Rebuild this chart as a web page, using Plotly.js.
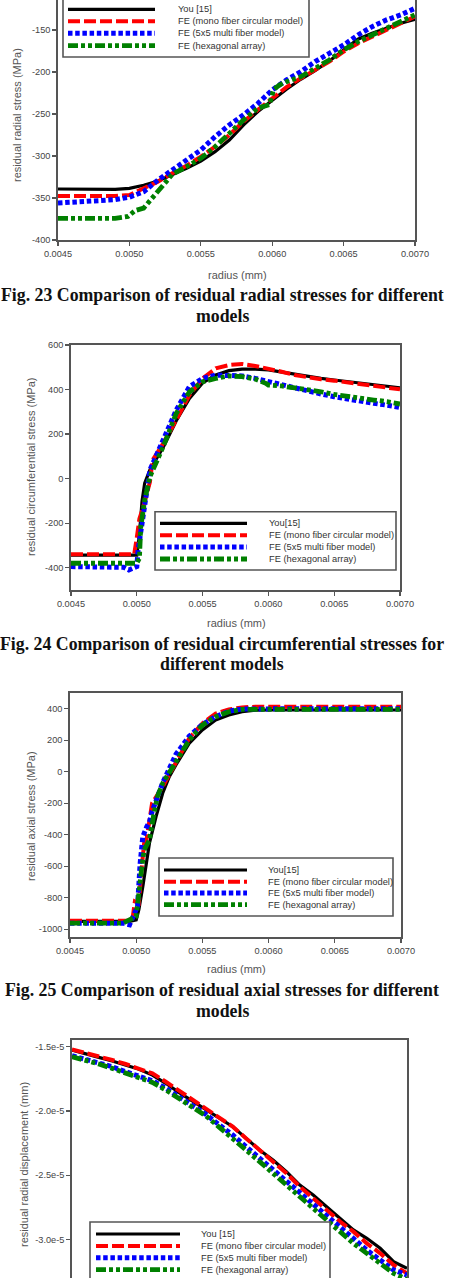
<!DOCTYPE html>
<html><head><meta charset="utf-8">
<script src="https://cdn.plot.ly/plotly-3.0.1.min.js"></script>
<style>html,body{margin:0;padding:0;background:#fff}#chart{width:453px;height:1278px}</style>
</head><body><div id="chart"></div>
<script>
// ---------- Fig. 23 : residual radial stress ----------
const radialR = [0.0045,0.0046,0.0047,0.0048,0.0049,0.0050,0.0051,0.0052,0.0053,0.0054,0.0055,0.0056,0.0057,0.0058,0.0059,0.0060,0.0061,0.0062,0.0063,0.0064,0.0065,0.0066,0.0067,0.0068,0.0069,0.0070];
const radialYou = [-339.3,-339.3,-339.3,-339.3,-339.7,-338.5,-334.9,-329.8,-322.6,-314.7,-306.0,-294.8,-281.0,-263.0,-247.0,-233.3,-220.6,-208.7,-198.4,-186.9,-173.8,-161.0,-154.0,-148.0,-142.0,-137.3];
const radialMono = [-347.6,-347.6,-347.6,-347.6,-347.6,-346.4,-339.0,-330.5,-320.6,-311.5,-300.8,-289.0,-275.0,-259.0,-245.0,-231.3,-218.0,-207.5,-197.6,-187.7,-175.8,-166.0,-158.0,-150.0,-142.0,-134.0];
const radialMulti = [-356.0,-355.0,-355.0,-354.0,-352.0,-349.0,-342.5,-328.6,-316.7,-304.8,-292.9,-277.0,-263.0,-251.0,-237.3,-221.4,-209.5,-199.6,-187.7,-177.8,-167.9,-156.0,-146.0,-138.0,-132.0,-124.2];
const radialHexR = [0.0045,0.0046,0.0047,0.0048,0.0049,0.00499,0.00504,0.0051,0.00515,0.0052,0.00525,0.0053,0.0054,0.0055,0.0056,0.0057,0.0058,0.0059,0.00598,0.00601,0.00605,0.0061,0.0062,0.0063,0.0064,0.0065,0.0066,0.0067,0.0068,0.0069,0.0070];
const radialHex = [-374.2,-374.2,-374.2,-374.2,-374.2,-372.0,-365.0,-362.0,-352.0,-342.0,-330.5,-322.0,-312.7,-302.8,-289.0,-273.0,-257.0,-243.0,-239.0,-221.0,-215.5,-211.5,-205.6,-195.6,-185.7,-173.8,-164.0,-156.0,-148.0,-140.0,-132.0];

// ---------- Fig. 24 : residual circumferential stress ----------
const circYouR = [0.0045,0.0046,0.0047,0.0048,0.0049,0.0050,0.00502,0.00504,0.00506,0.0051,0.0052,0.0053,0.0054,0.0055,0.0056,0.0057,0.0058,0.0059,0.0060,0.0061,0.0062,0.0063,0.0064,0.0065,0.0066,0.0067,0.0068,0.0069,0.0070];
const circYou = [-343,-343,-343,-343,-343,-343,-250,-100,-20,40,140,260,360,430,465,485,492,492,488,478,468,458,450,443,436,429,422,415,408];
const circMonoR = [0.0045,0.0046,0.0047,0.0048,0.0049,0.00498,0.0050,0.00502,0.00505,0.0051,0.00512,0.0052,0.0053,0.0054,0.0055,0.0056,0.0057,0.0058,0.0059,0.0060,0.0061,0.0062,0.0063,0.0064,0.0065,0.0066,0.0067,0.0068,0.0069,0.0070];
const circMono = [-340,-340,-340,-340,-340,-340,-265,-180,-126,-14,83,158,263,375,450,495,510,515,506,495,480,465,455,446,440,432,425,419,410,401];
const circMultiR = [0.0045,0.0046,0.0047,0.0048,0.0049,0.00494,0.0050,0.00501,0.00503,0.00505,0.00508,0.0051,0.0052,0.0053,0.0054,0.0055,0.0056,0.0057,0.0058,0.0059,0.0060,0.0061,0.0062,0.0063,0.0064,0.0065,0.0066,0.0067,0.0068,0.0069,0.0070];
const circMulti = [-395,-395,-395,-395,-398,-410,-395,-320,-231,-156,-14,39,173,308,413,450,465,465,461,450,435,420,405,390,380,368,357,348,338,330,320];
const circHexR = [0.0045,0.0046,0.0047,0.0048,0.0049,0.0050,0.00502,0.00503,0.00506,0.0051,0.0052,0.0053,0.0054,0.0055,0.0056,0.0057,0.0058,0.0059,0.00598,0.0060,0.0061,0.0062,0.0063,0.0064,0.0065,0.0066,0.0067,0.0068,0.0069,0.0070];
const circHex = [-380,-380,-380,-380,-380,-380,-358,-216,-96,9,143,293,390,435,450,461,458,447,428,420,416,408,395,390,378,368,360,353,346,335];

// ---------- Fig. 25 : residual axial stress ----------
const axYouR = [0.0045,0.0046,0.0047,0.0048,0.0049,0.00495,0.0050,0.00502,0.00505,0.0051,0.00515,0.0052,0.00525,0.0053,0.0054,0.0055,0.0056,0.0057,0.0058,0.0059,0.0060,0.0062,0.0064,0.0066,0.0068,0.0070];
const axYou = [-951,-951,-951,-951,-951,-951,-941,-877,-729,-454,-285,-137,-31,43,180,265,328,360,381,391,392,392,392,392,392,392];
const axMonoR = [0.0045,0.0046,0.0047,0.0048,0.0049,0.00497,0.00499,0.00502,0.00504,0.00506,0.00508,0.0051,0.00512,0.0052,0.0053,0.0054,0.0055,0.0056,0.0057,0.0058,0.0059,0.0060,0.0062,0.0064,0.0066,0.0068,0.0070];
const axMono = [-947,-947,-947,-947,-947,-947,-824,-835,-623,-454,-422,-285,-200,-95,64,212,307,370,396,408,413,413,413,413,413,413,413];
const axMultiR = [0.0045,0.0046,0.0047,0.0048,0.0049,0.00495,0.00499,0.00501,0.00503,0.00505,0.00508,0.0051,0.00512,0.00518,0.0052,0.00528,0.0053,0.0054,0.0055,0.0056,0.0057,0.0058,0.0059,0.0060,0.0062,0.0064,0.0066,0.0068,0.0070];
const axMulti = [-962,-962,-962,-962,-962,-972,-898,-856,-581,-412,-349,-320,-253,-116,-70,74,110,225,300,350,385,398,400,400,400,400,400,400,400];
const axHexR = [0.0045,0.0046,0.0047,0.0048,0.0049,0.0050,0.00502,0.00504,0.00506,0.0051,0.00513,0.00516,0.0052,0.0053,0.0054,0.0055,0.0056,0.0057,0.0058,0.0060,0.0062,0.0064,0.0066,0.0068,0.0070];
const axHex = [-962,-962,-962,-962,-962,-920,-729,-623,-497,-433,-285,-158,-74,64,201,296,349,381,396,396,396,396,396,396,396];

// ---------- residual radial displacement ----------
const dispR = [0.0045,0.0046,0.0047,0.0048,0.0049,0.0050,0.0051,0.0052,0.0053,0.0054,0.0055,0.0056,0.0057,0.0058,0.0059,0.0060,0.0061,0.0062,0.0063,0.0064,0.0065,0.0066,0.0067,0.0068,0.0069,0.0070];
const dispYou = [-1.526e-5,-1.552e-5,-1.583e-5,-1.612e-5,-1.643e-5,-1.676e-5,-1.721e-5,-1.785e-5,-1.858e-5,-1.923e-5,-1.988e-5,-2.053e-5,-2.123e-5,-2.214e-5,-2.304e-5,-2.382e-5,-2.473e-5,-2.577e-5,-2.655e-5,-2.746e-5,-2.836e-5,-2.927e-5,-2.992e-5,-3.070e-5,-3.174e-5,-3.226e-5];
const dispMono = [-1.521e-5,-1.547e-5,-1.578e-5,-1.604e-5,-1.635e-5,-1.669e-5,-1.708e-5,-1.773e-5,-1.843e-5,-1.910e-5,-1.978e-5,-2.045e-5,-2.123e-5,-2.214e-5,-2.304e-5,-2.395e-5,-2.486e-5,-2.590e-5,-2.681e-5,-2.772e-5,-2.862e-5,-2.940e-5,-3.031e-5,-3.109e-5,-3.200e-5,-3.265e-5];
const dispMulti = [-1.570e-5,-1.596e-5,-1.625e-5,-1.656e-5,-1.695e-5,-1.734e-5,-1.765e-5,-1.824e-5,-1.894e-5,-1.962e-5,-2.027e-5,-2.110e-5,-2.188e-5,-2.279e-5,-2.369e-5,-2.460e-5,-2.551e-5,-2.642e-5,-2.733e-5,-2.823e-5,-2.914e-5,-2.992e-5,-3.083e-5,-3.161e-5,-3.239e-5,-3.278e-5];
const dispHex = [-1.578e-5,-1.604e-5,-1.635e-5,-1.669e-5,-1.708e-5,-1.747e-5,-1.778e-5,-1.837e-5,-1.905e-5,-1.972e-5,-2.040e-5,-2.128e-5,-2.214e-5,-2.304e-5,-2.395e-5,-2.486e-5,-2.577e-5,-2.673e-5,-2.759e-5,-2.849e-5,-2.940e-5,-3.031e-5,-3.109e-5,-3.187e-5,-3.265e-5,-3.311e-5];

// ---------- tick labels & texts ----------
const xTickVals = [0.0045,0.0050,0.0055,0.0060,0.0065,0.0070];
const xTickText = ['0.0045','0.0050','0.0055','0.0060','0.0065','0.0070'];
const y1TickVals = [-400,-350,-300,-250,-200,-150];
const y1TickText = ['-400','-350','-300','-250','-200','-150'];
const y2TickVals = [-400,-200,0,200,400,600];
const y2TickText = ['-400','-200','0','200','400','600'];
const y3TickVals = [-1000,-800,-600,-400,-200,0,200,400];
const y3TickText = ['-1000','-800','-600','-400','-200','0','200','400'];
const y4TickVals = [-3.0e-5,-2.5e-5,-2.0e-5,-1.5e-5];
const y4TickText = ['-3.0e-5','-2.5e-5','-2.0e-5','-1.5e-5'];
const seriesNames = ['You [15]','FE (mono fiber circular model)','FE (5x5 multi fiber model)','FE (hexagonal array)'];
const seriesNamesAlt = ['You[15]','FE (mono fiber circular model)','FE (5x5 multi fiber model)','FE (hexagonal array)'];
const yTitles = ['residual radial stress (MPa)','residual circumferential stress (MPa)','residual axial stress (MPa)','residual radial displacement (mm)'];
const xTitle = 'radius (mm)';
const captions = [
  ['Fig. 23 Comparison of residual radial stresses for different','models'],
  ['Fig. 24 Comparison of residual circumferential stresses for','different models'],
  ['Fig. 25 Comparison of residual axial stresses for different','models']
];

// ---------- build ----------
const W = 453, H = 1278;
const PX = v => v / W, PY = v => 1 - v / H;
const sty = [
  {color:'#000000', width:3.2, dash:'solid'},
  {color:'#ff0000', width:4, dash:'12px,4px'},
  {color:'#0000ff', width:5, dash:'4.5px,2.7px'},
  {color:'#008000', width:4.8, dash:'10px,3px,4px,3px,4px,3px'}
];
const panels = [
  {sets:[[radialR,radialYou],[radialR,radialMono],[radialR,radialMulti],[radialHexR,radialHex]]},
  {sets:[[circYouR,circYou],[circMonoR,circMono],[circMultiR,circMulti],[circHexR,circHex]]},
  {sets:[[axYouR,axYou],[axMonoR,axMono],[axMultiR,axMulti],[axHexR,axHex]]},
  {sets:[[dispR,dispYou],[dispR,dispMono],[dispR,dispMulti],[dispR,dispHex]]}
];
const traces = [];
panels.forEach((p, i) => {
  const sfx = i === 0 ? '' : String(i + 1);
  p.sets.forEach((s, k) => {
    traces.push({type:'scatter', mode:'lines', x:s[0], y:s[1], name:seriesNames[k],
      xaxis:'x'+sfx, yaxis:'y'+sfx, showlegend:false, hoverinfo:'skip',
      line:{color:sty[k].color, width:sty[k].width, dash:sty[k].dash}});
  });
});

const tickFont = {family:'Liberation Sans, Arial, sans-serif', size:9.2, color:'#444'};
const frameColor = '#555';
function xax(dom, anchor, extra) {
  return Object.assign({domain:dom, anchor:anchor, range:[0.0045,0.0070], tickmode:'array',
    tickvals:xTickVals, ticktext:xTickText, showline:true, linecolor:frameColor, linewidth:1.8,
    ticks:'outside', ticklen:4, tickcolor:frameColor, tickwidth:1.2, showgrid:false, zeroline:false,
    tickfont:tickFont, mirror:true, fixedrange:true}, extra || {});
}
function yax(dom, anchor, range, tv, tt, extra) {
  return Object.assign({domain:dom, anchor:anchor, range:range, tickmode:'array',
    tickvals:tv, ticktext:tt, showline:true, linecolor:frameColor, linewidth:1.8,
    ticks:'outside', ticklen:4, tickcolor:frameColor, tickwidth:1.2, showgrid:false, zeroline:false,
    tickfont:tickFont, mirror:true, fixedrange:true}, extra || {});
}

const layout = {
  width:W, height:H, margin:{l:0,r:0,t:0,b:0}, paper_bgcolor:'#fff', plot_bgcolor:'#fff',
  showlegend:false,
  xaxis: xax([PX(58),PX(415)], 'y', {mirror:false}),
  yaxis: yax([PY(240),1], 'x', [-400,-114.3], y1TickVals, y1TickText),
  xaxis2: xax([PX(71),PX(400)], 'y2'),
  yaxis2: yax([PY(590),PY(345)], 'x2', [-500,600], y2TickVals, y2TickText),
  xaxis3: xax([PX(70),PX(401)], 'y3'),
  yaxis3: yax([PY(937),PY(693)], 'x3', [-1050,500], y3TickVals, y3TickText),
  xaxis4: xax([PX(72),PX(407)], 'y4', {side:'top', showticklabels:false, ticks:'', mirror:false}),
  yaxis4: yax([0,PY(1040)], 'x4', [-3.301e-5,-1.448e-5], y4TickVals, y4TickText),
  shapes:[], annotations:[]
};

// manual legends
const legends = [
  {box:[63,309,-5,57], rows:[9.3,21.3,33.3,45.7], lx:[68,155], tx:176, names:seriesNames},
  {box:[155,396,511.7,570], rows:[523.3,535.3,547,559], lx:[160,247], tx:267, names:seriesNamesAlt},
  {box:[159,393,858,916], rows:[870,881.7,893,904.7], lx:[164,247], tx:266, names:seriesNamesAlt},
  {box:[90,330,1222,1290], rows:[1234,1246,1257.7,1269.7], lx:[96,180], tx:199, names:seriesNames}
];
const legFont = {family:'Liberation Sans, Arial, sans-serif', size:9.3, color:'#333'};
legends.forEach(L => {
  layout.shapes.push({type:'rect', xref:'paper', yref:'paper', x0:PX(L.box[0]), x1:PX(L.box[1]),
    y0:PY(L.box[3]), y1:PY(L.box[2]), fillcolor:'#fff', line:{color:'#555', width:1.6}, layer:'above'});
  L.rows.forEach((ry, k) => {
    layout.shapes.push({type:'line', xref:'paper', yref:'paper', x0:PX(L.lx[0]), x1:PX(L.lx[1]),
      y0:PY(ry), y1:PY(ry), line:{color:sty[k].color, width:sty[k].width, dash:sty[k].dash}, layer:'above'});
    layout.annotations.push({xref:'paper', yref:'paper', x:PX(L.tx), y:PY(ry), xanchor:'left', yanchor:'middle',
      text:L.names[k], showarrow:false, font:legFont});
  });
});

// axis titles
const titleFont = {family:'Liberation Sans, Arial, sans-serif', size:11, color:'#555'};
[[17,115],[31,467],[31,816],[24,1165]].forEach((p, i) => {
  layout.annotations.push({xref:'paper', yref:'paper', x:PX(p[0]), y:PY(p[1]), xanchor:'center', yanchor:'middle',
    text:yTitles[i], textangle:-90, showarrow:false, font:titleFont});
});
[[237,275],[236,623],[236,969]].forEach(p => {
  layout.annotations.push({xref:'paper', yref:'paper', x:PX(p[0]), y:PY(p[1]), xanchor:'center', yanchor:'middle',
    text:xTitle, showarrow:false, font:titleFont});
});
// captions
const capFont = {family:'Liberation Serif, Times New Roman, serif', size:17.8, color:'#111'};
[[295,316],[644,664],[990,1011]].forEach((ys, i) => {
  captions[i].forEach((t, j) => {
    layout.annotations.push({xref:'paper', yref:'paper', x:PX(222), y:PY(ys[j]), xanchor:'center', yanchor:'middle',
      text:'<b>'+t+'</b>', showarrow:false, font:capFont});
  });
});

Plotly.newPlot('chart', traces, layout, {staticPlot:true, displayModeBar:false});
</script>
</body></html>
